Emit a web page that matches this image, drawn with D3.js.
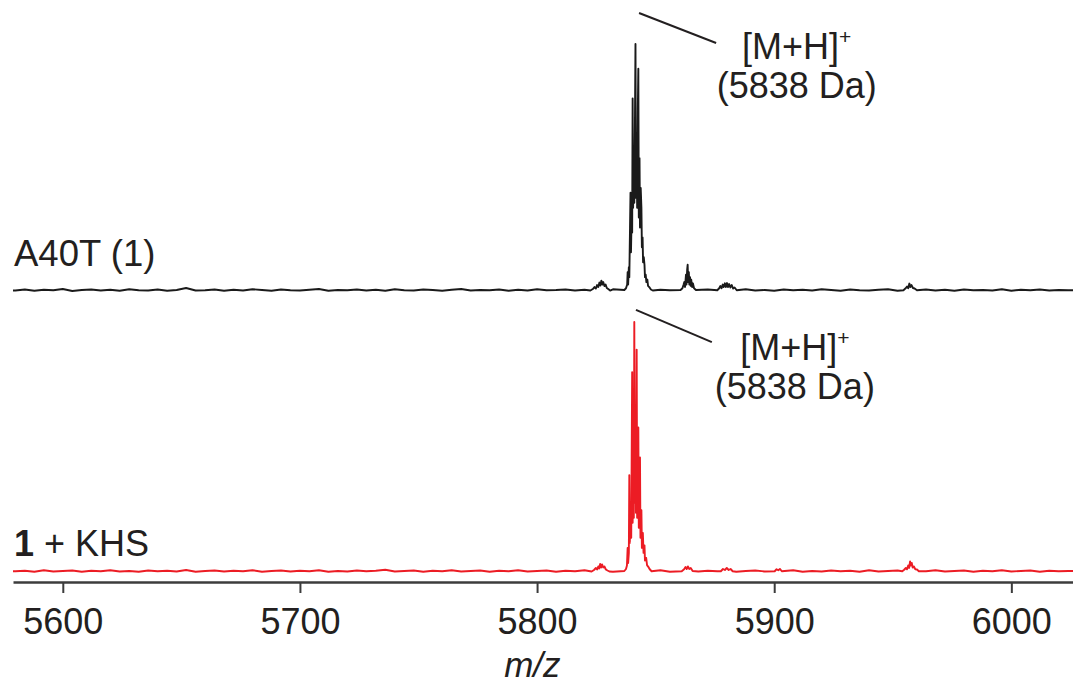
<!DOCTYPE html>
<html><head><meta charset="utf-8">
<script src="https://cdn.jsdelivr.net/npm/d3@7"></script>
<style>
body{margin:0;background:#fff}
svg text{font-family:"Liberation Sans",Arial,Helvetica,sans-serif;fill:#231f20}
</style>
</head><body>
<svg id="chart" width="1073" height="686"></svg>
<script>
// ---------------- data ----------------
const xDomain = [5579, 6026];
const xTicks = [5600, 5700, 5800, 5900, 6000];
const axisLabel = "m/z";
const seriesLabels = ["A40T (1)", "1 + KHS"];
const annotationLines = ["[M+H]", "+", "(5838 Da)"];

// baseline noise (relative intensity, %), one value every 4 Da starting at 5580
const noiseStartMz = 5580, noiseStepMz = 4;
const blackNoise = [
0.6,1.0,0.5,0.9,0.7,1.2,0.4,0.8,1.0,0.6, 0.9,0.5,1.1,0.7,0.6,1.0,0.5,0.8,1.6,0.6,
0.7,1.0,0.5,0.9,0.6,1.1,0.8,0.5,1.0,0.7, 0.6,0.9,1.2,0.5,0.8,0.7,1.0,0.6,0.9,0.5,
1.1,0.7,0.6,1.0,0.8,0.5,0.9,1.2,0.6,0.8, 0.7,1.0,0.5,0.9,0.6,1.1,0.7,0.8,1.0,0.6,
0.9,0.5,0.8,1.1,0.7,0.6,1.0,0.5,0.9,0.7, 1.2,0.6,0.8,1.0,0.5,0.9,0.7,1.1,0.6,0.8,
0.5,1.0,0.7,0.9,0.6,1.1,0.8,0.5,1.0,0.7, 0.6,0.9,1.1,0.5,0.8,0.7,1.0,0.6,0.9,0.5,
1.0,0.7,0.8,0.6,1.1,0.5,0.9,0.7,1.0,0.6, 0.8,0.7];
const redNoise = [
0.7,0.9,0.5,1.1,0.6,0.8,1.0,0.5,0.9,0.7, 1.1,0.6,0.8,0.5,1.0,0.7,0.9,0.6,1.2,0.5,
0.8,1.0,0.6,0.9,0.7,1.1,0.5,0.8,1.0,0.6, 0.9,0.7,1.1,0.5,0.8,0.6,1.0,0.7,0.9,1.3,
0.6,0.8,1.0,0.5,0.9,0.7,1.1,0.6,0.8,1.0, 0.5,0.9,0.7,1.1,0.6,0.8,1.0,0.5,0.9,0.7,
1.1,0.6,0.8,0.5,1.0,0.7,0.9,0.6,1.1,0.5, 0.8,1.0,0.6,0.9,0.7,1.2,0.5,0.8,1.0,0.6,
0.9,0.7,1.1,0.5,0.8,0.6,1.0,0.7,0.9,0.5, 1.1,0.6,0.8,1.0,0.5,0.9,0.7,1.1,0.6,0.8,
1.0,0.5,0.9,0.7,1.1,0.6,0.8,1.0,0.5,0.9, 0.7,0.8];

// isotope clusters [m/z, relative intensity %]
const blackCluster5827 = [[5822.5,0.6],[5823.5,1.2],[5824.2,2.0],[5824.8,1.4],[5825.3,2.8],[5825.8,2.0],[5826.3,3.8],[5826.7,2.6],[5827.1,4.6],[5827.5,3.0],[5827.9,4.0],[5828.4,2.4],[5828.9,3.0],[5829.4,1.6],[5830.0,1.2],[5830.8,0.6]];
const blackClusterMain = [[5836.8,0.8],[5837.5,1.5],[5838.0,3],[5838.2,8],[5838.4,3],[5838.7,10],[5838.9,6],[5839.2,26],[5839.4,40],[5839.6,16],[5839.9,32],[5840.1,24],[5840.3,78],[5840.5,34],[5840.8,56],[5841.0,36],[5841.3,72],[5841.5,100],[5841.7,38],[5842.0,64],[5842.2,34],[5842.5,74],[5842.7,90],[5842.9,30],[5843.2,54],[5843.4,26],[5843.7,42],[5844.0,34],[5844.2,18],[5844.5,22],[5844.7,12],[5845.0,14],[5845.3,11],[5845.5,6],[5845.8,7],[5846.1,4],[5846.5,5],[5846.8,2.5],[5847.3,2],[5848.0,1],[5848.8,0.6]];
const blackCluster5863 = [[5860.5,0.8],[5861.3,1.5],[5861.8,3],[5862.1,4],[5862.4,2],[5862.8,7],[5863.0,3],[5863.3,9],[5863.5,11],[5863.7,4],[5864.0,8],[5864.2,3],[5864.5,6],[5864.8,2.5],[5865.0,5],[5865.4,2],[5865.7,3.5],[5866.2,1.5],[5867.0,0.8]];
const blackCluster5880 = [[5876.0,0.7],[5876.8,1.5],[5877.3,2.4],[5877.8,1.5],[5878.3,3],[5878.7,2],[5879.2,3.5],[5879.6,2],[5880.1,3.6],[5880.5,2],[5881.0,3.2],[5881.5,1.8],[5882.1,2.8],[5882.7,1.4],[5883.3,1.8],[5884.2,0.7]];
const blackCluster5957 = [[5954.5,0.7],[5955.3,1.4],[5956.0,2.2],[5956.5,1.5],[5957.0,3.4],[5957.4,2],[5957.9,2.8],[5958.5,1.6],[5959.2,1.4],[5960.2,0.7]];

const redCluster5827 = [[5823.0,0.6],[5824.0,1.2],[5824.8,2],[5825.3,1.4],[5825.8,2.6],[5826.2,1.8],[5826.6,3.6],[5827.0,2.2],[5827.4,3.4],[5827.9,2.2],[5828.4,2.6],[5829.0,1.4],[5829.7,1],[5830.5,0.6]];
const redClusterMain = [[5836.8,0.8],[5837.5,1.6],[5837.9,3],[5838.2,10],[5838.4,4],[5838.7,8],[5838.9,39],[5839.1,12],[5839.4,22],[5839.7,14],[5840.1,80],[5840.3,20],[5840.6,50],[5840.8,22],[5841.0,100],[5841.2,28],[5841.5,60],[5841.7,24],[5842.0,89],[5842.2,22],[5842.5,40],[5842.7,58],[5842.9,18],[5843.2,30],[5843.4,46],[5843.6,14],[5844.0,25],[5844.2,10],[5844.6,16],[5844.9,8],[5845.3,11],[5845.5,5],[5846.0,6],[5846.4,3],[5846.9,2.5],[5847.5,1.5],[5848.3,0.7]];
const redCluster5863 = [[5861.0,0.7],[5862.0,1.5],[5862.6,2.4],[5863.1,1.6],[5863.6,2.6],[5864.2,1.6],[5864.8,2],[5865.6,0.8]];
const redCluster5880 = [[5877.5,0.7],[5878.4,1.6],[5879.2,1.2],[5880.0,2.0],[5880.8,1.2],[5881.6,1.6],[5882.5,0.7]];
const redCluster5902 = [[5900.2,0.7],[5901.0,1.5],[5901.7,1.1],[5902.4,1.6],[5903.2,0.7]];
const redCluster5957 = [[5954.0,0.7],[5954.8,1.3],[5955.5,2],[5956.0,1.5],[5956.5,3],[5956.9,2],[5957.3,4.6],[5957.6,3],[5958.0,4],[5958.4,2.2],[5958.9,2.6],[5959.5,1.5],[5960.2,1.4],[5961.0,0.7]];

// annotation leader lines [m/z, relative intensity]
const blackLeader = [[5843.0,112.5],[5875.5,100.4]];
const redLeader = [[5841.7,104.8],[5873.7,92.0]];
const blackLabelMz = 5909.5, redLabelMz = 5908.7;

// ---------------- drawing ----------------
const svg = d3.select("#chart");
const x = d3.scaleLinear().domain(xDomain).range([13, 1073]);
const yTop = d3.scaleLinear().domain([0, 100]).range([292, 44]);
const yBot = d3.scaleLinear().domain([0, 100]).range([573, 322]);

function buildSpectrum(noise, clusters) {
  const pts = noise.map((v, i) => [noiseStartMz + i * noiseStepMz, v])
    .filter(p => !clusters.some(c => p[0] >= c[0][0] - 1 && p[0] <= c[c.length - 1][0] + 1));
  clusters.forEach(c => c.forEach(p => pts.push(p)));
  pts.push([xDomain[0], noise[0]]);
  pts.push([xDomain[1], noise[noise.length - 1]]);
  return pts.sort((a, b) => a[0] - b[0]);
}

const blackData = buildSpectrum(blackNoise, [blackCluster5827, blackClusterMain, blackCluster5863, blackCluster5880, blackCluster5957]);
const redData = buildSpectrum(redNoise, [redCluster5827, redClusterMain, redCluster5863, redCluster5880, redCluster5902, redCluster5957]);

function drawSpectrum(data, y, color) {
  svg.append("path").datum(data)
    .attr("fill", "none").attr("stroke", color).attr("stroke-width", 1.9)
    .attr("stroke-linejoin", "round")
    .attr("d", d3.line().x(d => x(d[0])).y(d => y(d[1])));
}
drawSpectrum(blackData, yTop, "#1a1a1a");
drawSpectrum(redData, yBot, "#ec1c24");

// axis
const axis = d3.axisBottom(x).tickValues(xTicks).tickSize(11).tickSizeOuter(0).tickPadding(15).tickFormat(d3.format("d"));
const ag = svg.append("g").attr("transform", "translate(0,582)").call(axis);
ag.select(".domain").attr("stroke", "#3c3c3c").attr("stroke-width", 2.6);
ag.selectAll(".tick line").attr("stroke", "#3c3c3c").attr("stroke-width", 2);
ag.selectAll(".tick text").attr("font-size", 36).attr("fill", "#231f20")
  .style("font-family", '"Liberation Sans",Arial,sans-serif');

svg.append("text").attr("x", x(5798)).attr("y", 677).attr("text-anchor", "middle")
  .attr("font-size", 35).attr("font-style", "italic").text(axisLabel);

// series labels
svg.append("text").attr("x", 14).attr("y", 266).attr("font-size", 36.5).text(seriesLabels[0]);
const l2 = svg.append("text").attr("x", 14).attr("y", 556).attr("font-size", 36).attr("font-weight", "normal");
l2.append("tspan").attr("font-weight", "bold").text(seriesLabels[1].slice(0, 1));
l2.append("tspan").text(seriesLabels[1].slice(1));

// annotations
function annotate(leader, y, labelMz, b1, b2) {
  svg.append("path").datum(leader).attr("fill", "none").attr("stroke", "#231f20").attr("stroke-width", 2)
    .attr("d", d3.line().x(d => x(d[0])).y(d => y(d[1])));
  const t = svg.append("text").attr("x", x(labelMz)).attr("y", b1).attr("text-anchor", "middle").attr("font-size", 36);
  t.append("tspan").text(annotationLines[0]);
  t.append("tspan").attr("font-size", 21).attr("dy", -15).text(annotationLines[1]);
  svg.append("text").attr("x", x(labelMz)).attr("y", b2).attr("text-anchor", "middle").attr("font-size", 36).text(annotationLines[2]);
}
annotate(blackLeader, yTop, blackLabelMz, 59, 98);
annotate(redLeader, yBot, redLabelMz, 360, 399);
</script>
</body></html>
